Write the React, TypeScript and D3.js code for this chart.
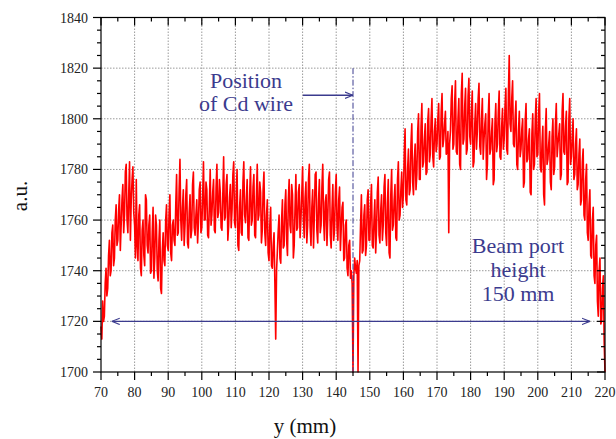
import React from "react";
import * as d3 from "d3";

const xStart = 70;
const xStep = 0.25;
const signal: number[] = [
  1718, 1713, 1728, 1720, 1722, 1735, 1741, 1730, 1733, 1746, 1752, 1738, 1740, 1755, 1758, 1742, 1745, 1760, 1766, 1750,
  1752, 1764, 1770, 1748, 1758, 1768, 1774, 1755, 1762, 1779, 1782, 1760, 1755, 1770, 1783, 1752, 1768, 1776, 1781, 1763,
  1758, 1745, 1776, 1750, 1744, 1762, 1766, 1741, 1738, 1756, 1760, 1746, 1742, 1770, 1768, 1750, 1747, 1758, 1762, 1739,
  1740, 1755, 1765, 1737, 1745, 1762, 1758, 1740, 1736, 1752, 1760, 1733, 1731, 1748, 1755, 1744, 1742, 1760, 1766, 1750,
  1748, 1762, 1770, 1747, 1744, 1758, 1760, 1752, 1750, 1766, 1778, 1754, 1755, 1772, 1784, 1760, 1752, 1765, 1772, 1750,
  1758, 1770, 1776, 1751, 1749, 1763, 1770, 1753, 1756, 1774, 1779, 1757, 1754, 1762, 1768, 1751, 1759, 1772, 1775, 1755,
  1757, 1769, 1783, 1760, 1760, 1775, 1772, 1754, 1753, 1766, 1780, 1758, 1762, 1771, 1776, 1756, 1755, 1773, 1782, 1761,
  1763, 1776, 1771, 1757, 1756, 1770, 1785, 1760, 1761, 1774, 1778, 1752, 1758, 1769, 1774, 1757, 1764, 1778, 1783, 1759,
  1757, 1771, 1780, 1750, 1748, 1765, 1772, 1755, 1754, 1775, 1783, 1762, 1759, 1768, 1776, 1753, 1752, 1770, 1781, 1758,
  1760, 1773, 1778, 1754, 1753, 1769, 1782, 1760, 1762, 1775, 1771, 1751, 1756, 1772, 1779, 1755, 1750, 1762, 1768, 1747,
  1744, 1758, 1765, 1742, 1741, 1750, 1755, 1735, 1713, 1740, 1748, 1756, 1762, 1745, 1743, 1760, 1768, 1749, 1750, 1766,
  1772, 1752, 1746, 1768, 1776, 1758, 1755, 1774, 1770, 1745, 1750, 1765, 1778, 1756, 1757, 1771, 1774, 1753, 1760, 1770,
  1781, 1760, 1753, 1769, 1775, 1751, 1758, 1776, 1782, 1757, 1750, 1765, 1772, 1749, 1762, 1778, 1779, 1756, 1751, 1768,
  1776, 1755, 1758, 1773, 1782, 1760, 1752, 1767, 1770, 1750, 1761, 1776, 1779, 1754, 1749, 1764, 1774, 1752, 1756, 1771,
  1778, 1757, 1752, 1768, 1773, 1748, 1757, 1765, 1767, 1744, 1745, 1758, 1760, 1741, 1738, 1750, 1752, 1737, 1740, 1735,
  1700, 1738, 1745, 1741, 1739, 1744, 1700, 1742, 1744, 1758, 1770, 1747, 1748, 1762, 1766, 1746, 1750, 1768, 1772, 1752,
  1752, 1766, 1774, 1750, 1749, 1760, 1768, 1747, 1756, 1771, 1777, 1754, 1751, 1764, 1770, 1752, 1758, 1773, 1778, 1755,
  1750, 1767, 1776, 1747, 1745, 1770, 1780, 1756, 1758, 1768, 1774, 1753, 1752, 1776, 1783, 1760, 1762, 1772, 1779, 1765,
  1770, 1786, 1796, 1768, 1766, 1780, 1788, 1770, 1772, 1790, 1798, 1775, 1770, 1784, 1790, 1772, 1778, 1795, 1802, 1776,
  1776, 1797, 1806, 1781, 1783, 1792, 1798, 1778, 1779, 1799, 1804, 1783, 1786, 1800, 1808, 1785, 1781, 1795, 1800, 1787,
  1790, 1800, 1806, 1784, 1785, 1803, 1810, 1789, 1792, 1798, 1803, 1786, 1787, 1795, 1755, 1790, 1795, 1808, 1813, 1788,
  1790, 1806, 1815, 1787, 1786, 1800, 1808, 1782, 1780, 1810, 1818, 1790, 1792, 1805, 1812, 1786, 1788, 1809, 1816, 1793,
  1790, 1803, 1811, 1781, 1783, 1798, 1806, 1788, 1795, 1808, 1814, 1789, 1786, 1800, 1808, 1784, 1792, 1798, 1802, 1776,
  1782, 1801, 1810, 1786, 1788, 1795, 1800, 1774, 1776, 1798, 1806, 1787, 1790, 1803, 1811, 1785, 1784, 1797, 1804, 1788,
  1792, 1805, 1812, 1788, 1786, 1810, 1825, 1798, 1795, 1808, 1815, 1790, 1789, 1800, 1807, 1782, 1780, 1795, 1803, 1785,
  1788, 1796, 1800, 1773, 1775, 1799, 1806, 1783, 1784, 1792, 1796, 1771, 1770, 1794, 1802, 1780, 1782, 1800, 1808, 1785,
  1786, 1802, 1810, 1781, 1779, 1790, 1797, 1770, 1766, 1795, 1804, 1782, 1784, 1790, 1795, 1775, 1772, 1793, 1800, 1778,
  1781, 1798, 1806, 1785, 1790, 1794, 1798, 1776, 1778, 1803, 1810, 1787, 1786, 1797, 1803, 1774, 1775, 1800, 1808, 1782,
  1785, 1793, 1800, 1776, 1778, 1790, 1796, 1772, 1774, 1786, 1792, 1766, 1768, 1783, 1788, 1762, 1760, 1776, 1782, 1755,
  1752, 1766, 1772, 1746, 1745, 1760, 1765, 1738, 1735, 1750, 1754, 1728, 1722, 1740, 1745, 1719, 1720, 1733, 1738, 1712,
  1700,
];

const xTicks = [70, 80, 90, 100, 110, 120, 130, 140, 150, 160, 170, 180, 190, 200, 210, 220];
const yTicks = [1700, 1720, 1740, 1760, 1780, 1800, 1820, 1840];

const cdWireX = 145;
const cdWireTop = 1820;
const cdArrowFrom = 130.1;
const cdArrowY = 1809.3;
const beamArrowFrom = 73.2;
const beamArrowTo = 215.5;
const beamArrowY = 1720;

export default function App() {
  const W = 616, H = 439;
  const x = d3.scaleLinear().domain([70, 220]).range([101, 605]);
  const y = d3.scaleLinear().domain([1700, 1840]).range([372, 17.5]);
  const pts: [number, number][] = signal.map((v, i) => [xStart + i * xStep, v]);
  const line = d3.line<[number, number]>().x((d) => x(d[0])).y((d) => y(d[1]));
  const xMinor = d3.range(70, 220.01, 5);
  const yMinor = d3.range(1700, 1840.01, 5);
  const [x0, x1] = x.range();
  const [y0, y1] = y.range();
  const ink = "#3b3b8e";
  const font = "'Times New Roman', Tinos, 'Liberation Serif', 'Noto Serif', 'DejaVu Serif', serif";

  return (
    <svg width={W} height={H} style={{ position: "absolute", left: 0, top: 0, background: "#fff", fontFamily: font }}>
      <defs>
        <marker id="arr" viewBox="0 0 10 10" refX="10" refY="5" markerWidth="8" markerHeight="8" orient="auto-start-reverse" markerUnits="userSpaceOnUse">
          <path d="M0,1 L10,5 L0,9" fill="none" stroke={ink} strokeWidth={1.4} />
        </marker>
      </defs>
      {xTicks.filter((t) => t > 70 && t < 220).map((t) => (
        <line key={"gx" + t} x1={x(t)} x2={x(t)} y1={y0} y2={y1} stroke="#9a9a9a" strokeWidth={1} strokeDasharray="1.5,1.5" />
      ))}
      {yTicks.filter((t) => t > 1700 && t < 1840).map((t) => (
        <line key={"gy" + t} x1={x0} x2={x1} y1={y(t)} y2={y(t)} stroke="#9a9a9a" strokeWidth={1} strokeDasharray="1.5,1.5" />
      ))}
      <path d={line(pts) || ""} fill="none" stroke="#ff0000" strokeWidth={1.6} strokeLinejoin="round" />
      <line x1={x(cdWireX)} x2={x(cdWireX)} y1={y(cdWireTop)} y2={y0} stroke={ink} strokeWidth={1} strokeDasharray="6,2,1.5,2" />
      <line x1={x(cdArrowFrom)} x2={x(cdWireX)} y1={y(cdArrowY)} y2={y(cdArrowY)} stroke={ink} strokeWidth={1.3} markerEnd="url(#arr)" />
      <line x1={x(beamArrowFrom)} x2={x(beamArrowTo)} y1={y(beamArrowY)} y2={y(beamArrowY)} stroke={ink} strokeWidth={1.3} markerEnd="url(#arr)" markerStart="url(#arr)" />
      <g fill={ink} fontSize={22} textAnchor="middle" style={{ fontFamily: font }}>
        <text x={246} y={88}>Position</text>
        <text x={246} y={111}>of Cd wire</text>
        <text x={518} y={253}>Beam port</text>
        <text x={518} y={277}>height</text>
        <text x={518} y={301}>150 mm</text>
      </g>
      <rect x={x0} y={y1} width={x1 - x0} height={y0 - y1} fill="none" stroke="#000" strokeWidth={1.2} />
      {xMinor.map((t) => {
        const major = xTicks.includes(t);
        const len = major ? 8 : 4;
        return (
          <g key={"xt" + t} stroke="#000" strokeWidth={1.2}>
            <line x1={x(t)} x2={x(t)} y1={y0} y2={y0 + len} />
            <line x1={x(t)} x2={x(t)} y1={y1} y2={y1 + len} />
          </g>
        );
      })}
      {yMinor.map((t) => {
        const major = yTicks.includes(t);
        const len = major ? 8 : 4;
        return (
          <g key={"yt" + t} stroke="#000" strokeWidth={1.2}>
            <line x1={x0 - len} x2={x0} y1={y(t)} y2={y(t)} />
            <line x1={x1 - len} x2={x1} y1={y(t)} y2={y(t)} />
          </g>
        );
      })}
      <g fontSize={14} fill="#222" style={{ fontFamily: font }}>
        {xTicks.map((t) => (
          <text key={"xl" + t} x={x(t)} y={397} textAnchor="middle">{t}</text>
        ))}
        {yTicks.map((t) => (
          <text key={"yl" + t} x={88} y={y(t) + 5} textAnchor="end">{t}</text>
        ))}
      </g>
      <text x={305} y={433} fontSize={21} textAnchor="middle" fill="#111" style={{ fontFamily: font }}>y (mm)</text>
      <text transform={`translate(27,196) rotate(-90)`} fontSize={21} textAnchor="middle" fill="#111" style={{ fontFamily: font }}>a.u.</text>
    </svg>
  );
}
